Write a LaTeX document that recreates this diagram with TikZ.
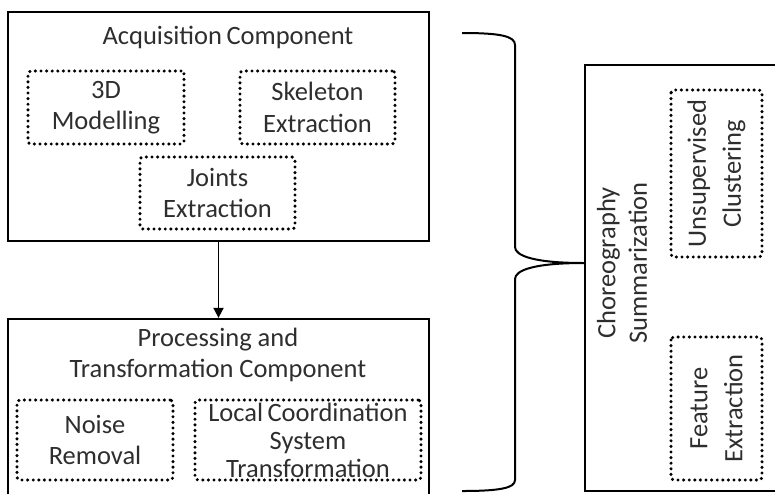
\documentclass[tikz,border=0pt]{standalone}
\usepackage{fontspec}
\setmainfont{Carlito}
\usetikzlibrary{arrows.meta}
\definecolor{txt}{HTML}{2E2E2E}
\tikzset{
  mainbox/.style={draw=black, line width=2.3pt, inner sep=0pt},
  dotbox/.style={draw=black, line width=3.4pt, dash pattern=on 0pt off 5.6pt, line cap=round, rounded corners=3pt, inner sep=0pt, align=center, text=txt, font=\fontsize{26.5}{31.5}\selectfont},
  title/.style={text=txt, align=center, font=\fontsize{26.5}{31.5}\selectfont, inner sep=0pt},
  conn/.style={draw=black, line width=1.8pt},
}
\begin{document}
\begin{tikzpicture}[x=1pt,y=-1pt]
\useasboundingbox (0,0) rectangle (775,493);
\clip (0,0) rectangle (775,493);
% main boxes
\node[mainbox, minimum width=421pt, minimum height=229pt] (acq) at (218.5,126.5) {};
\node[mainbox, minimum width=421pt, minimum height=220pt] (proc) at (218.5,429) {};
\node[mainbox, minimum width=240pt, minimum height=426pt] (chor) at (705,278) {};
% titles
\node[title] (acqt) at (228,37) {Acquisition\,Component};
\node[title] (proct) at (218,355) {Processing and\\Transformation Component};
\node[title, rotate=90] (chort) at (622,263) {Choreography\\Summarization};
% inner boxes
\node[dotbox, minimum width=156pt, minimum height=73pt] (m3d) at (106,107.5) {3D\\Modelling};
\node[dotbox, minimum width=155pt, minimum height=73pt] (skel) at (317.5,107.5) {Skeleton\\Extraction};
\node[dotbox, minimum width=155pt, minimum height=72pt] (joint) at (217.5,193) {Joints\\Extraction};
\node[dotbox, minimum width=156pt, minimum height=80pt] (noise) at (95,440) {Noise\\Removal};
\node[dotbox, minimum width=226pt, minimum height=80pt, font=\fontsize{26.5}{28}\selectfont] (lcs) at (308,440) {Local\,Coordination\\System\\Transformation};
\node[dotbox, rotate=90, minimum width=167pt, minimum height=91pt, font=\fontsize{26.5}{35}\selectfont] (uc) at (716.5,173.5) {Unsupervised\\Clustering};
\node[dotbox, rotate=90, minimum width=143pt, minimum height=91pt, font=\fontsize{26.5}{35}\selectfont] (fe) at (716.5,408.5) {Feature\\Extraction};
% arrow
\draw[conn, -{Triangle[length=10pt,width=10pt]}] (acq.south) -- (proc.north);
% brace
\coordinate (tip) at (chor.west |- chort.center);
\draw[line width=2pt, line join=round]
  (462,33) .. controls (500,33) and (515,36) .. (515,45) -- (515,247)
  .. controls (515,256) and (535,263) .. (tip)
  .. controls (535,263) and (515,270) .. (515,279) -- (515,480)
  .. controls (515,488) and (500,491) .. (462,491);
\end{tikzpicture}
\end{document}
